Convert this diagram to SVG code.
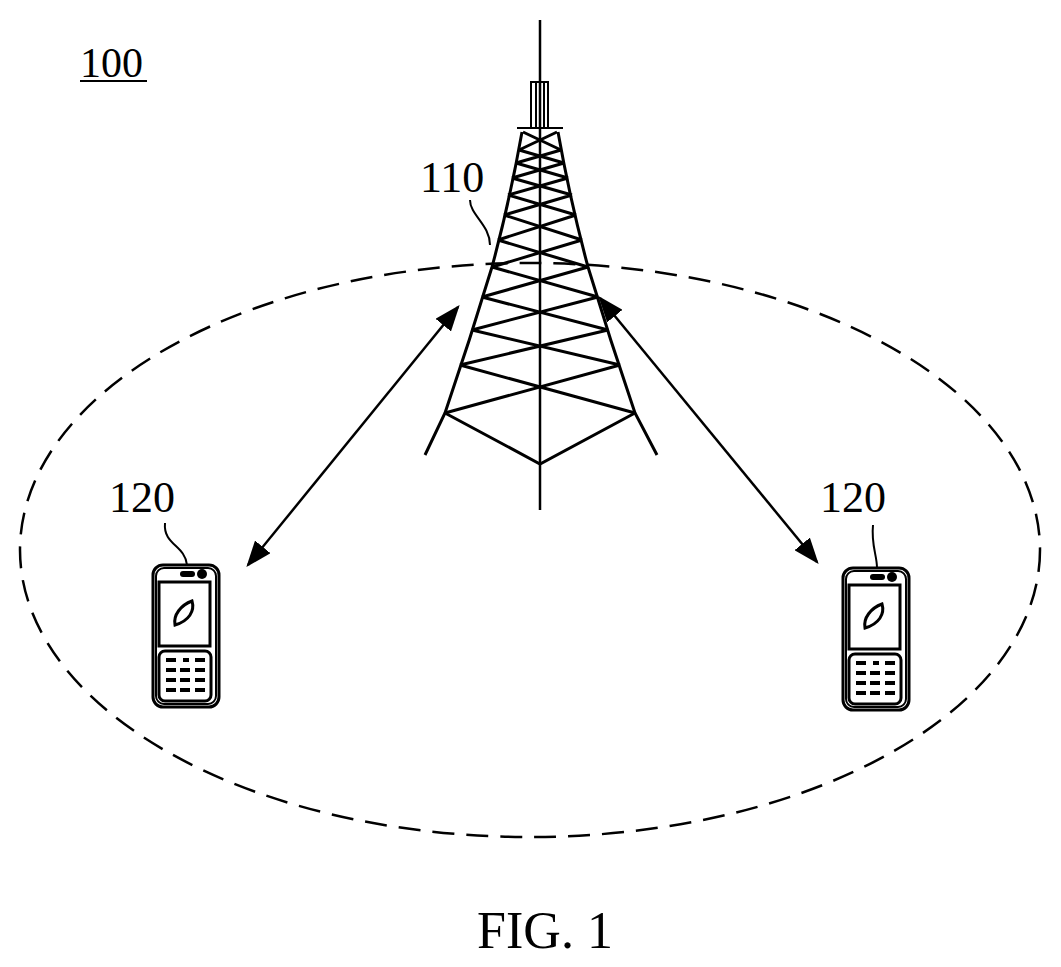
<svg xmlns="http://www.w3.org/2000/svg" xmlns:xlink="http://www.w3.org/1999/xlink" width="1061" height="967" viewBox="0 0 1061 967">
<style>
.t{font-family:"Liberation Serif",serif;fill:#000}
.s{fill:none;stroke:#000;stroke-width:3}
.l{fill:none;stroke:#000;stroke-width:2}
</style>
<defs>
<marker id="ah" viewBox="0 0 10 10" refX="9" refY="5" markerWidth="26" markerHeight="20" markerUnits="userSpaceOnUse" orient="auto-start-reverse" preserveAspectRatio="none"><path d="M0,0L10,5L0,10z"/></marker>
<symbol id="phone" overflow="visible">
<rect x="0" y="0" width="66" height="142" rx="10" class="s"/>
<rect x="3" y="3" width="60" height="136" rx="8" class="l"/>
<rect x="27" y="6" width="15" height="6" rx="3" fill="#000"/>
<circle cx="49" cy="9" r="5" fill="#000"/>
<rect x="6" y="17" width="51" height="64" class="s"/>
<path d="M22,60C20,50 28,40 39,36C42,46 36,56 22,60z" class="s"/>
<rect x="6" y="86" width="52" height="50" rx="6" class="s"/>
<g stroke="#000" stroke-width="4">
<path d="M13,95h10M30,95h6M42,95h10M13,105h10M27,105h10M42,105h10M13,115h10M27,115h10M42,115h10M13,125h10M27,125h10M42,125h10"/>
</g>
</symbol>
</defs>
<g id="label100"><text class="t" x="80" y="77" font-size="42">100</text><line x1="80" y1="81" x2="147" y2="81" stroke="#000" stroke-width="2"/></g>
<g id="coverage"><ellipse cx="530" cy="550" rx="510" ry="287" fill="none" stroke="#000" stroke-width="2.5" stroke-dasharray="22,12"/></g>
<g id="tower110">
<line x1="540" y1="20" x2="540" y2="510" stroke="#000" stroke-width="2.5"/>
<path d="M531,127V82H548V127M536,127V82M544,127V82" class="l"/>
<path d="M522,132Q510,200 492,267Q470,340 445,413L425,455M558,132Q570,200 588,267Q610,340 635,413L657,455" class="s"/>
<path class="s" stroke-width="2.5" d="M445,413L540,464L635,413
M523,132L561,150M557,132L519,150
M519,150L564,163M561,150L516,163
M516,163L568,178M564,163L512,178
M512,178L572,195M568,178L508,195
M508,195L576,215M572,195L504,215
M504,215L582,240M576,215L498,240
M498,240L588,267M582,240L492,267
M492,267L598,297M588,267L482,297
M482,297L608,330M598,297L472,330
M472,330L620,365M608,330L460,365
M460,365L635,413M620,365L445,413"/>
<path d="M517,128H563" class="l"/>
</g>
<g id="label110"><text class="t" x="420" y="192" font-size="44">110</text><path d="M470,200C470,215 490,225 490,245" class="l"/></g>
<g id="connectors">
<line x1="248" y1="565" x2="458" y2="307" stroke="#000" stroke-width="2.5" marker-start="url(#ah)" marker-end="url(#ah)"/>
<line x1="600" y1="298" x2="817" y2="562" stroke="#000" stroke-width="2.5" marker-start="url(#ah)" marker-end="url(#ah)"/>
</g>
<g id="phone120left"><text class="t" x="109" y="512" font-size="44">120</text><path d="M165,523C163,545 185,545 187,565" class="l"/><use xlink:href="#phone" x="153" y="565"/></g>
<g id="phone120right"><text class="t" x="820" y="512" font-size="44">120</text><path d="M873,525C871,545 877,555 877,568" class="l"/><use xlink:href="#phone" x="843" y="568"/></g>
<g id="caption"><text class="t" x="545" y="948" font-size="52" text-anchor="middle">FIG. 1</text></g>
</svg>
